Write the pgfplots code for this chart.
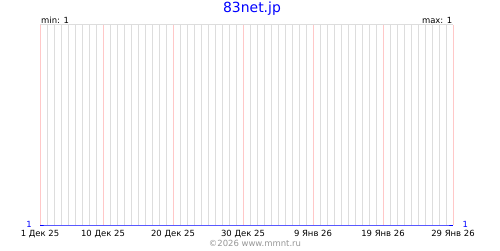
\documentclass[border=0pt]{standalone}
\usepackage{pgfplots}
\pgfplotsset{compat=1.18}
\usepackage{fontspec}
\setmainfont{DejaVu Sans}
\definecolor{gridgray}{RGB}{221,221,221}
\definecolor{gridpink}{RGB}{255,200,200}
\definecolor{titleblue}{RGB}{0,0,255}
\definecolor{footgray}{RGB}{150,150,150}
\begin{document}
\begin{tikzpicture}[x=1bp,y=1bp]
\path[fill=white] (0,0) rectangle (500,250);
\begin{axis}[
  at={(40bp,25bp)}, anchor=south west,
  scale only axis, width=413bp, height=200bp,
  xmin=0, xmax=59, ymin=1, ymax=2,
  axis line style={draw=none},
  xtick={0,9,19,29,39,49,59},
  xticklabels={1 Дек 25,10 Дек 25,20 Дек 25,30 Дек 25,9 Янв 26,19 Янв 26,29 Янв 26},
  minor xtick={1,2,3,4,5,6,7,8,10,11,12,13,14,15,16,17,18,20,21,22,23,24,25,26,27,28,30,31,32,33,34,35,36,37,38,40,41,42,43,44,45,46,47,48,50,51,52,53,54,55,56,57,58},
  xmajorgrids, xminorgrids,
  major x grid style={gridpink, line width=1bp},
  minor x grid style={gridgray, line width=1bp},
  ytick={2}, yticklabels={}, ymajorgrids,
  major y grid style={gridgray, line width=1bp},
  major tick length=0, minor tick length=0,
  xticklabel style={font=\fontsize{8.5}{10}\selectfont, anchor=base, inner sep=0pt, yshift=-11bp},
  clip=false,
]
\addplot[titleblue, line width=1bp] coordinates {
(0,1) (1,1) (2,1) (3,1) (4,1) (5,1) (6,1) (7,1) (8,1) (9,1)
(10,1) (11,1) (12,1) (13,1) (14,1) (15,1) (16,1) (17,1) (18,1) (19,1)
(20,1) (21,1) (22,1) (23,1) (24,1) (25,1) (26,1) (27,1) (28,1) (29,1)
(30,1) (31,1) (32,1) (33,1) (34,1) (35,1) (36,1) (37,1) (38,1) (39,1)
(40,1) (41,1) (42,1) (43,1) (44,1) (45,1) (46,1) (47,1) (48,1) (49,1)
(50,1) (51,1) (52,1) (53,1) (54,1) (55,1) (56,1) (57,1) (58,1) (59,1)};
\end{axis}
\node[titleblue, anchor=base, inner sep=0pt, font=\fontsize{14}{16}\selectfont] at (252,238) {83net.jp};
\node[anchor=base west, inner sep=0pt, font=\fontsize{8.5}{10}\selectfont] at (41,227) {min: 1};
\node[anchor=base east, inner sep=0pt, font=\fontsize{8.5}{10}\selectfont] at (452.5,227) {max: 1};
\node[titleblue, anchor=base east, inner sep=0pt, font=\fontsize{8.5}{10}\selectfont] at (32,23) {1};
\node[titleblue, anchor=base west, inner sep=0pt, font=\fontsize{8.5}{10}\selectfont] at (462.5,23) {1};
\node[footgray, anchor=base, inner sep=0pt, font=\fontsize{8.5}{10}\selectfont] at (255,4) {©2026 www.mmnt.ru};
\end{tikzpicture}
\end{document}
